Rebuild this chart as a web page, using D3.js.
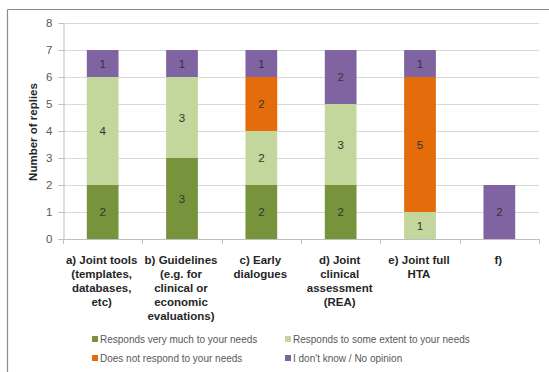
<!DOCTYPE html>
<html><head><meta charset="utf-8">
<script src="https://cdn.jsdelivr.net/npm/d3@7"></script>
<style>body{margin:0;background:#fff}svg{display:block}</style>
</head><body><svg id="c" width="549" height="372"></svg>
<script>
const categories = ["a) Joint tools|(templates,|databases,|etc)","b) Guidelines|(e.g. for|clinical or|economic|evaluations)","c) Early|dialogues","d) Joint|clinical|assessment|(REA)","e) Joint full|HTA","f)"];
const seriesNames = ["Responds very much to your needs","Responds to some extent to your needs","Does not respond to your needs","I don't know / No opinion"];
const veryMuch = [2,3,2,2,0,0];
const someExtent = [4,3,2,3,1,0];
const notRespond = [0,0,2,0,5,0];
const dontKnow = [1,1,1,2,1,2];
const yTicks = [0,1,2,3,4,5,6,7,8];
const colors = ["#77933C","#C3D69B","#E46C0A","#8064A2"];

const svg = d3.select("#c");
const font = "'Liberation Sans', Arial, sans-serif";
svg.style("font-family", font);

// outer frame (top & left visible)
svg.append("line").attr("x1",7.5).attr("x2",549).attr("y1",9.5).attr("y2",9.5).attr("stroke","#8c8c8c").attr("stroke-width",1.2);
svg.append("line").attr("x1",7.5).attr("x2",7.5).attr("y1",9.5).attr("y2",372).attr("stroke","#8c8c8c").attr("stroke-width",1.2);

const x = d3.scaleBand().domain(d3.range(categories.length)).range([63,539]).paddingInner(0.6).paddingOuter(0.3);
const y = d3.scaleLinear().domain([0,8]).range([239,23]);

// gridlines
svg.append("g").selectAll("line").data(yTicks.filter(d=>d>0)).join("line")
  .attr("x1",63).attr("x2",539).attr("y1",d=>Math.round(y(d))+0.5).attr("y2",d=>Math.round(y(d))+0.5)
  .attr("stroke","#d9d9d9").attr("stroke-width",1.2);

// y axis
const yAxis = svg.append("g").attr("transform","translate(63.5,0)")
  .call(d3.axisLeft(y).tickValues(yTicks).tickSize(5).tickPadding(6).tickFormat(d3.format("d")));
yAxis.select(".domain").attr("stroke","#bfbfbf");
yAxis.selectAll(".tick line").attr("stroke","#bfbfbf");
yAxis.selectAll("text").attr("fill","#595959").style("font-size","11.5px").style("font-family",font);

// x axis
const xEdges = d3.range(categories.length+1).map(i=>63 + i*(539-63)/categories.length);
svg.append("line").attr("x1",63).attr("x2",539).attr("y1",239.5).attr("y2",239.5).attr("stroke","#bfbfbf");
svg.append("g").selectAll("line").data(xEdges).join("line")
  .attr("x1",d=>Math.round(d)+0.5).attr("x2",d=>Math.round(d)+0.5).attr("y1",239).attr("y2",244).attr("stroke","#bfbfbf");

// stacked data
const rows = categories.map((c,i)=>({i, s0:veryMuch[i], s1:someExtent[i], s2:notRespond[i], s3:dontKnow[i]}));
const stack = d3.stack().keys(["s0","s1","s2","s3"])(rows);

const g = svg.append("g");
stack.forEach((layer,k)=>{
  layer.forEach(d=>{
    const v = d[1]-d[0];
    if (v<=0) return;
    const i = d.data.i;
    g.append("rect").attr("x",x(i)).attr("width",x.bandwidth())
      .attr("y",y(d[1])).attr("height",y(d[0])-y(d[1])).attr("fill",colors[k]);
    g.append("text").attr("x",x(i)+x.bandwidth()/2).attr("y",(y(d[0])+y(d[1]))/2+4)
      .attr("text-anchor","middle").attr("fill","#333").style("font-size","11.5px").text(v);
  });
});

// y label
svg.append("text").attr("transform","translate(37,132) rotate(-90)").attr("text-anchor","middle")
  .style("font-weight","bold").style("font-size","11.5px").attr("fill","#262626").text("Number of replies");

// category labels
categories.forEach((c,i)=>{
  const lines = c.split("|");
  const t = svg.append("text").attr("text-anchor","middle").style("font-weight","bold").style("font-size","11.5px").attr("fill","#262626");
  lines.forEach((l,j)=>{
    t.append("tspan").attr("x",x(i)+x.bandwidth()/2 - 1).attr("y",264+j*14).text(l);
  });
});

// legend
const legPos = [[92,339],[285,339],[92,358],[285,358]];
seriesNames.forEach((n,k)=>{
  const [lx,ly] = legPos[k];
  svg.append("rect").attr("x",lx).attr("y",ly-3).attr("width",6).attr("height",6).attr("fill",colors[k]);
  svg.append("text").attr("x",lx+8).attr("y",ly+3.5).style("font-size","10px").attr("fill","#595959").text(n);
});
</script></body></html>
